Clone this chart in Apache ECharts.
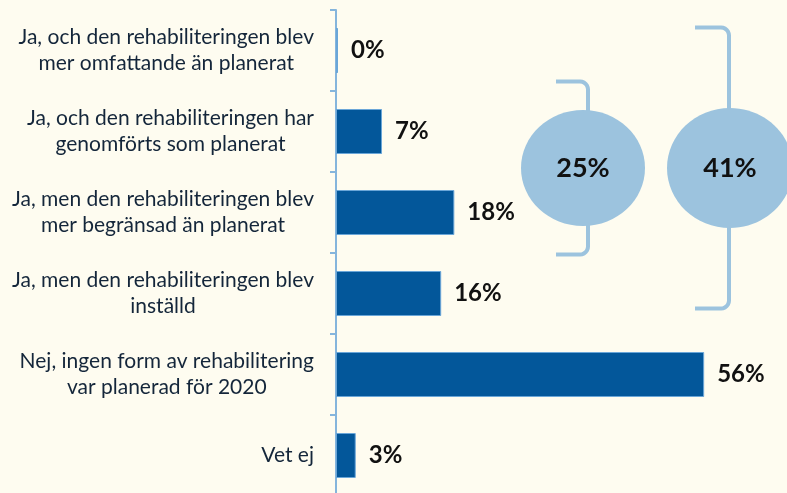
<!DOCTYPE html>
<html><head><meta charset="utf-8">
<script src="https://cdn.jsdelivr.net/npm/echarts@6/dist/echarts.min.js"></script>
<style>html,body{margin:0;padding:0;background:#fefcf0;overflow:hidden;}#c{width:787px;height:496px;}</style>
</head><body><div id="c"></div>
<script>
var categories = [
  'Ja, och den rehabiliteringen blev\nmer omfattande än planerat',
  'Ja, och den rehabiliteringen har\ngenomförts som planerat',
  'Ja, men den rehabiliteringen blev\nmer begränsad än planerat',
  'Ja, men den rehabiliteringen blev\ninställd',
  'Nej, ingen form av rehabilitering\nvar planerad för 2020',
  'Vet ej'
];
var values = [0, 7, 18, 16, 56, 3];
var groupTotals = [25, 41];
var groupRows = [[1, 2], [0, 3]];

var chart = echarts.init(document.getElementById('c'), null, {renderer: 'canvas'});
var axisColor = '#85b5dc';
var lightBlue = '#9cc3de';
chart.setOption({
  backgroundColor: '#fefcf0',
  animation: false,
  grid: {left: 336, top: 10, right: 0, bottom: 0, containLabel: false},
  xAxis: {type: 'value', min: 0, max: 68.6, show: false},
  yAxis: {
    type: 'category', inverse: true, data: categories,
    axisLine: {lineStyle: {color: axisColor, width: 2}},
    axisTick: {show: true, length: 6, inside: false, lineStyle: {color: axisColor, width: 2}},
    axisLabel: {
      margin: 22, align: 'right',
      formatter: function (v) { return v.split('\n').map(function (l) { return '{c|' + l + '}'; }).join('\n'); },
      rich: {c: {align: 'center', fontFamily: 'Lato', fontSize: 21, lineHeight: 26, color: '#14263a'}}
    }
  },
  series: [{
    type: 'bar', data: values, barWidth: 45, barMinHeight: 2,
    itemStyle: {color: '#03579a', borderColor: '#6aa6d8', borderWidth: 1},
    label: {show: true, position: 'right', distance: 13, formatter: '{c}%',
      fontFamily: 'Lato', fontWeight: 'bold', fontSize: 24, color: '#111'}
  }]
});

function yOf(i) { return chart.convertToPixel({yAxisIndex: 0}, i); }
var specs = [
  {xh: 556, xv: 588, top: yOf(groupRows[0][0]) - 50, bot: yOf(groupRows[0][1]) + 42, rx: 62, ry: 58, cx: 583},
  {xh: 695, xv: 729, top: yOf(groupRows[1][0]) - 23, bot: yOf(groupRows[1][1]) + 15, rx: 63, ry: 60, cx: 730}
];
function corner(cx, cy, r, a0, a1) {
  var pts = [];
  for (var i = 0; i <= 6; i++) {
    var a = a0 + (a1 - a0) * i / 6;
    pts.push([cx + r * Math.cos(a), cy + r * Math.sin(a)]);
  }
  return pts;
}
var g = [];
specs.forEach(function (s, k) {
  var cy = (s.top + s.bot) / 2, r = 8;
  var pts = [[s.xh, s.top]]
    .concat(corner(s.xv - r, s.top + r, r, -Math.PI / 2, 0))
    .concat(corner(s.xv - r, s.bot - r, r, 0, Math.PI / 2))
    .concat([[s.xh, s.bot]]);
  g.push({type: 'polyline', shape: {points: pts}, style: {fill: null, stroke: lightBlue, lineWidth: 4}, z: 10});
  g.push({type: 'ellipse', shape: {cx: s.cx, cy: cy, rx: s.rx, ry: s.ry}, style: {fill: lightBlue}, z: 11});
  g.push({type: 'text', x: s.cx, y: cy, style: {text: groupTotals[k] + '%', align: 'center', verticalAlign: 'middle',
    fontFamily: 'Lato', fontWeight: 'bold', fontSize: 27, fill: '#111'}, z: 12});
});
chart.setOption({graphic: g});
</script></body></html>
